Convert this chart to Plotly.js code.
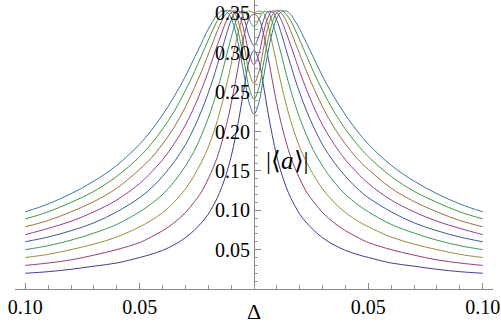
<!DOCTYPE html>
<html>
<head>
<meta charset="utf-8">
<script src="https://cdn.plot.ly/plotly-3.0.1.min.js"></script>
<style>
  html, body { margin: 0; padding: 0; background: #fff; }
  #chart { width: 501px; height: 326px; }
</style>
</head>
<body>
<div id="chart"></div>
<script>
// detuning grid shared by all curves
var delta = [-0.1, -0.09, -0.08, -0.07, -0.06, -0.05, -0.045, -0.04, -0.035, -0.03, -0.026, -0.023,
  -0.02, -0.018, -0.016, -0.014, -0.012, -0.01, -0.008, -0.006, -0.004, -0.002, 0,
  0.002, 0.004, 0.006, 0.008, 0.01, 0.012, 0.014, 0.016, 0.018, 0.02,
  0.023, 0.026, 0.03, 0.035, 0.04, 0.045, 0.05, 0.06, 0.07, 0.08, 0.09, 0.1];

// |<a>|, one list per curve (narrowest first)
var amp1 = [0.020, 0.022, 0.025, 0.029, 0.033, 0.040, 0.044, 0.049, 0.056, 0.065, 0.075, 0.084,
  0.095, 0.105, 0.116, 0.130, 0.147, 0.168, 0.195, 0.226, 0.261, 0.291, 0.303,
  0.291, 0.261, 0.226, 0.195, 0.168, 0.147, 0.130, 0.116, 0.105, 0.095,
  0.084, 0.075, 0.065, 0.056, 0.049, 0.044, 0.040, 0.033, 0.029, 0.025, 0.022, 0.020];
var amp2 = [0.030, 0.033, 0.037, 0.043, 0.050, 0.059, 0.066, 0.074, 0.084, 0.097, 0.111, 0.123,
  0.140, 0.153, 0.168, 0.187, 0.209, 0.235, 0.265, 0.297, 0.326, 0.344, 0.349,
  0.344, 0.326, 0.297, 0.265, 0.235, 0.209, 0.187, 0.168, 0.153, 0.140,
  0.123, 0.111, 0.097, 0.084, 0.074, 0.066, 0.059, 0.050, 0.043, 0.037, 0.033, 0.030];
var amp3 = [0.040, 0.044, 0.050, 0.057, 0.066, 0.079, 0.087, 0.097, 0.110, 0.127, 0.145, 0.161,
  0.180, 0.196, 0.214, 0.235, 0.259, 0.285, 0.312, 0.336, 0.351, 0.353, 0.351,
  0.353, 0.351, 0.336, 0.312, 0.285, 0.259, 0.235, 0.214, 0.196, 0.180,
  0.161, 0.145, 0.127, 0.110, 0.097, 0.087, 0.079, 0.066, 0.057, 0.050, 0.044, 0.040];
var amp4 = [0.050, 0.055, 0.062, 0.071, 0.082, 0.098, 0.108, 0.120, 0.136, 0.156, 0.176, 0.195,
  0.217, 0.234, 0.253, 0.274, 0.297, 0.319, 0.339, 0.352, 0.352, 0.341, 0.333,
  0.341, 0.352, 0.352, 0.339, 0.319, 0.297, 0.274, 0.253, 0.234, 0.217,
  0.195, 0.176, 0.156, 0.136, 0.120, 0.108, 0.098, 0.082, 0.071, 0.062, 0.055, 0.050];
var amp5 = [0.060, 0.066, 0.074, 0.084, 0.098, 0.116, 0.128, 0.143, 0.161, 0.183, 0.206, 0.226,
  0.249, 0.266, 0.285, 0.304, 0.324, 0.341, 0.352, 0.352, 0.340, 0.320, 0.309,
  0.320, 0.340, 0.352, 0.352, 0.341, 0.324, 0.304, 0.285, 0.266, 0.249,
  0.226, 0.206, 0.183, 0.161, 0.143, 0.128, 0.116, 0.098, 0.084, 0.074, 0.066, 0.060];
var amp6 = [0.069, 0.077, 0.086, 0.098, 0.113, 0.134, 0.148, 0.164, 0.184, 0.208, 0.232, 0.253,
  0.276, 0.293, 0.310, 0.326, 0.341, 0.351, 0.353, 0.344, 0.323, 0.297, 0.285,
  0.297, 0.323, 0.344, 0.353, 0.351, 0.341, 0.326, 0.310, 0.293, 0.276,
  0.253, 0.232, 0.208, 0.184, 0.164, 0.148, 0.134, 0.113, 0.098, 0.086, 0.077, 0.069];
var amp7 = [0.079, 0.087, 0.098, 0.111, 0.128, 0.152, 0.166, 0.184, 0.205, 0.231, 0.256, 0.276,
  0.298, 0.313, 0.328, 0.341, 0.350, 0.354, 0.348, 0.331, 0.303, 0.274, 0.261,
  0.274, 0.303, 0.331, 0.348, 0.354, 0.350, 0.341, 0.328, 0.313, 0.298,
  0.276, 0.256, 0.231, 0.205, 0.184, 0.166, 0.152, 0.128, 0.111, 0.098, 0.087, 0.079];
var amp8 = [0.089, 0.098, 0.110, 0.124, 0.143, 0.168, 0.184, 0.203, 0.225, 0.252, 0.276, 0.296,
  0.316, 0.329, 0.341, 0.349, 0.354, 0.351, 0.338, 0.315, 0.284, 0.254, 0.241,
  0.254, 0.284, 0.315, 0.338, 0.351, 0.354, 0.349, 0.341, 0.329, 0.316,
  0.296, 0.276, 0.252, 0.225, 0.203, 0.184, 0.168, 0.143, 0.124, 0.110, 0.098, 0.089];
var amp9 = [0.098, 0.108, 0.121, 0.137, 0.157, 0.184, 0.201, 0.221, 0.244, 0.270, 0.294, 0.312,
  0.330, 0.340, 0.349, 0.353, 0.352, 0.344, 0.326, 0.299, 0.266, 0.235, 0.222,
  0.235, 0.266, 0.299, 0.326, 0.344, 0.352, 0.353, 0.349, 0.340, 0.330,
  0.312, 0.294, 0.270, 0.244, 0.221, 0.201, 0.184, 0.157, 0.137, 0.121, 0.108, 0.098];

var curveColors = ["#3d3d99", "#993d71", "#998d3d", "#3d9957", "#3d5899",
  "#993d8d", "#99703d", "#40993d", "#3d7699"];

var xTickVals = [-0.1, -0.05, 0.05, 0.1];
var xTickText = ["0.10", "0.05", "0.05", "0.10"];
var yTickVals = [0.05, 0.1, 0.15, 0.2, 0.25, 0.3, 0.35];
var yTickText = ["0.05", "0.10", "0.15", "0.20", "0.25", "0.30", "0.35"];

var allAmps = [amp1, amp2, amp3, amp4, amp5, amp6, amp7, amp8, amp9];
var traces = [];
for (var i = 0; i < allAmps.length; i++) {
  traces.push({
    x: delta,
    y: allAmps[i],
    mode: "lines",
    line: { color: curveColors[i], width: 1, shape: "spline", smoothing: 1 },
    hoverinfo: "skip",
    showlegend: false,
  });
}

var serif = "Liberation Serif";

Plotly.newPlot(
  "chart",
  traces,
  {
    width: 501,
    height: 326,
    margin: { l: 15, r: 8, t: 0, b: 37 },
    paper_bgcolor: "#fff",
    plot_bgcolor: "#fff",
    showlegend: false,
    font: { family: serif, color: "#000" },
    xaxis: {
      range: [-0.1045, 0.1045],
      showgrid: false,
      zeroline: false,
      showline: true,
      linecolor: "#888",
      linewidth: 1,
      tickmode: "array",
      tickvals: xTickVals,
      ticktext: xTickText,
      ticks: "inside",
      ticklen: 6,
      tickcolor: "#888",
      tickfont: { family: serif, size: 20, color: "#000" },
      minor: { tickmode: "linear", tick0: 0, dtick: 0.01, ticks: "inside", ticklen: 4, tickcolor: "#999" },
      fixedrange: true,
    },
    yaxis: {
      range: [0, 0.367],
      anchor: "free",
      position: 0.5,
      showgrid: false,
      zeroline: false,
      showline: true,
      linecolor: "#888",
      linewidth: 1,
      tickmode: "array",
      tickvals: yTickVals,
      ticktext: yTickText,
      ticks: "inside",
      ticklen: 6,
      tickcolor: "#888",
      tickfont: { family: serif, size: 20, color: "#000" },
      minor: { tickmode: "linear", tick0: 0, dtick: 0.01, ticks: "inside", ticklen: 3, tickcolor: "#999" },
      fixedrange: true,
    },
    annotations: [
      {
        x: 0.0145,
        y: 0.1636,
        xref: "x",
        yref: "y",
        text: "|⟨<i>a</i>⟩|",
        showarrow: false,
        font: { family: serif, size: 25, color: "#000" },
      },
      {
        x: 0,
        y: 0,
        xref: "x",
        yref: "paper",
        yanchor: "bottom",
        yshift: -37,
        text: "Δ",
        showarrow: false,
        font: { family: serif, size: 22, color: "#000" },
      },
    ],
  },
  { displayModeBar: false, staticPlot: true }
);
</script>
</body>
</html>
